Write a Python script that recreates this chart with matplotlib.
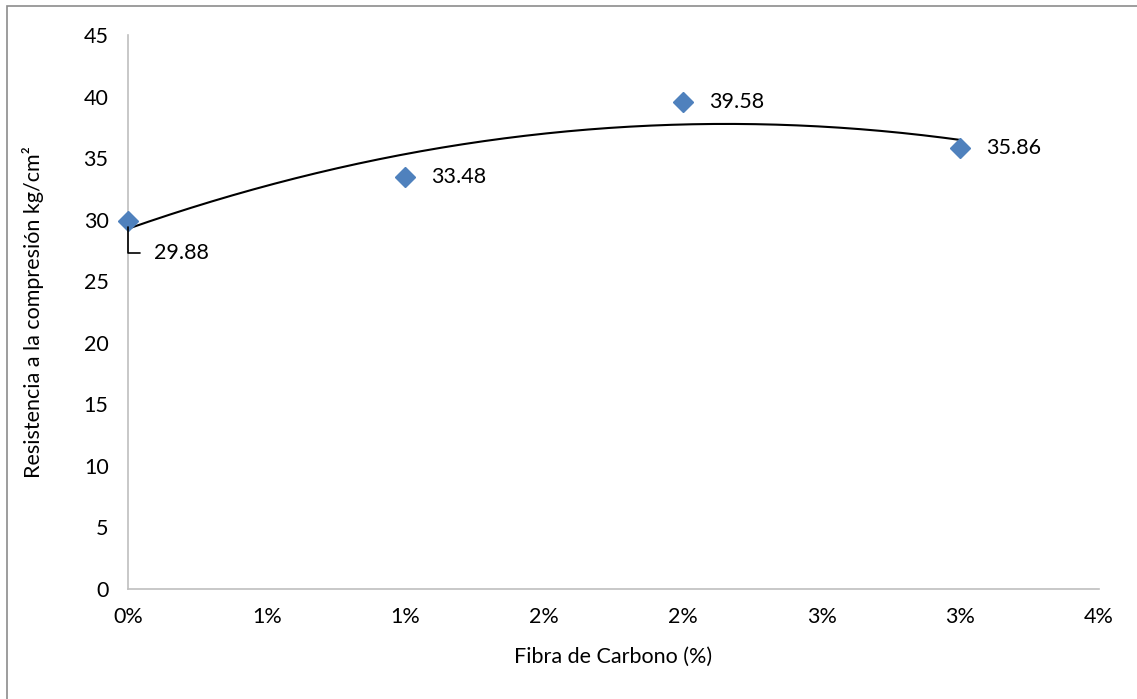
import numpy as np
import matplotlib
matplotlib.use("Agg")
import matplotlib.pyplot as plt
from matplotlib.patches import Rectangle

plt.rcParams['font.family'] = ['Lato', 'DejaVu Sans']

# data
fibra = [0.0, 0.01, 0.02, 0.03]
resistencia = [29.88, 33.48, 39.58, 35.86]
x_ticks = [0.0, 0.005, 0.01, 0.015, 0.02, 0.025, 0.03, 0.035]
y_ticks = [0, 5, 10, 15, 20, 25, 30, 35, 40, 45]

blue = '#4F81BD'
grey = '#BFBFBF'
fs = 15.5

fig = plt.figure(figsize=(11.37, 6.99), dpi=100)
ax = fig.add_axes([128/1137, 1 - 589/699, (1099 - 128)/1137, (589 - 35)/699])

# polynomial trendline (order 2), as in the spreadsheet
coef = np.polyfit(fibra, resistencia, 2)
xt = np.linspace(min(fibra), max(fibra), 200)
ax.plot(xt, np.polyval(coef, xt), color='black', lw=1.5, zorder=2)

ax.plot(fibra, resistencia, linestyle='none', marker='D', ms=10,
        color=blue, zorder=3, clip_on=False)

# data labels
for i, (x, y) in enumerate(zip(fibra, resistencia)):
    if i == 0:
        ax.annotate(f"{y:.2f}", xy=(x, y), xytext=(26, -32),
                    textcoords='offset pixels',
                    va='center', ha='left', fontsize=fs,
                    arrowprops=dict(arrowstyle='-', color='black', lw=1.2,
                                    connectionstyle='angle,angleA=0,angleB=90,rad=0',
                                    shrinkA=8, shrinkB=4))
    else:
        ax.annotate(f"{y:.2f}", xy=(x, y), xytext=(26, 0),
                    textcoords='offset pixels', va='center', ha='left',
                    fontsize=fs)

ax.set_xlim(0, 0.035)
ax.set_ylim(0, 45)
ax.set_xticks(x_ticks)
ax.set_xticklabels([f"{int(np.floor(v*100 + 0.5 + 1e-9))}%" for v in x_ticks])
ax.set_yticks(y_ticks)
ax.tick_params(length=0, labelsize=fs)
ax.tick_params(axis='y', pad=14)
ax.tick_params(axis='x', pad=13)

for s in ['top', 'right']:
    ax.spines[s].set_visible(False)
for s in ['left', 'bottom']:
    ax.spines[s].set_color(grey)
    ax.spines[s].set_linewidth(1.2)

ax.set_xlabel('Fibra de Carbono (%)', fontsize=fs)
ax.set_ylabel('Resistencia a la compresión kg/cm²', fontsize=fs)
ax.xaxis.set_label_coords((613 - 128)/971, (589 - 657)/554)
ax.yaxis.set_label_coords((33 - 128)/971, (589 - 312)/554)
ax.xaxis.label.set_va('center')
ax.yaxis.label.set_va('center')

# chart area border (only left/top visible in the crop)
fig.patches.append(Rectangle((7/1137, -0.1), 1.2, 1 - 6/699 + 0.1,
                             transform=fig.transFigure, fill=False,
                             edgecolor='#8C8C8C', lw=1.2))

fig.savefig('out.png', dpi=100)
